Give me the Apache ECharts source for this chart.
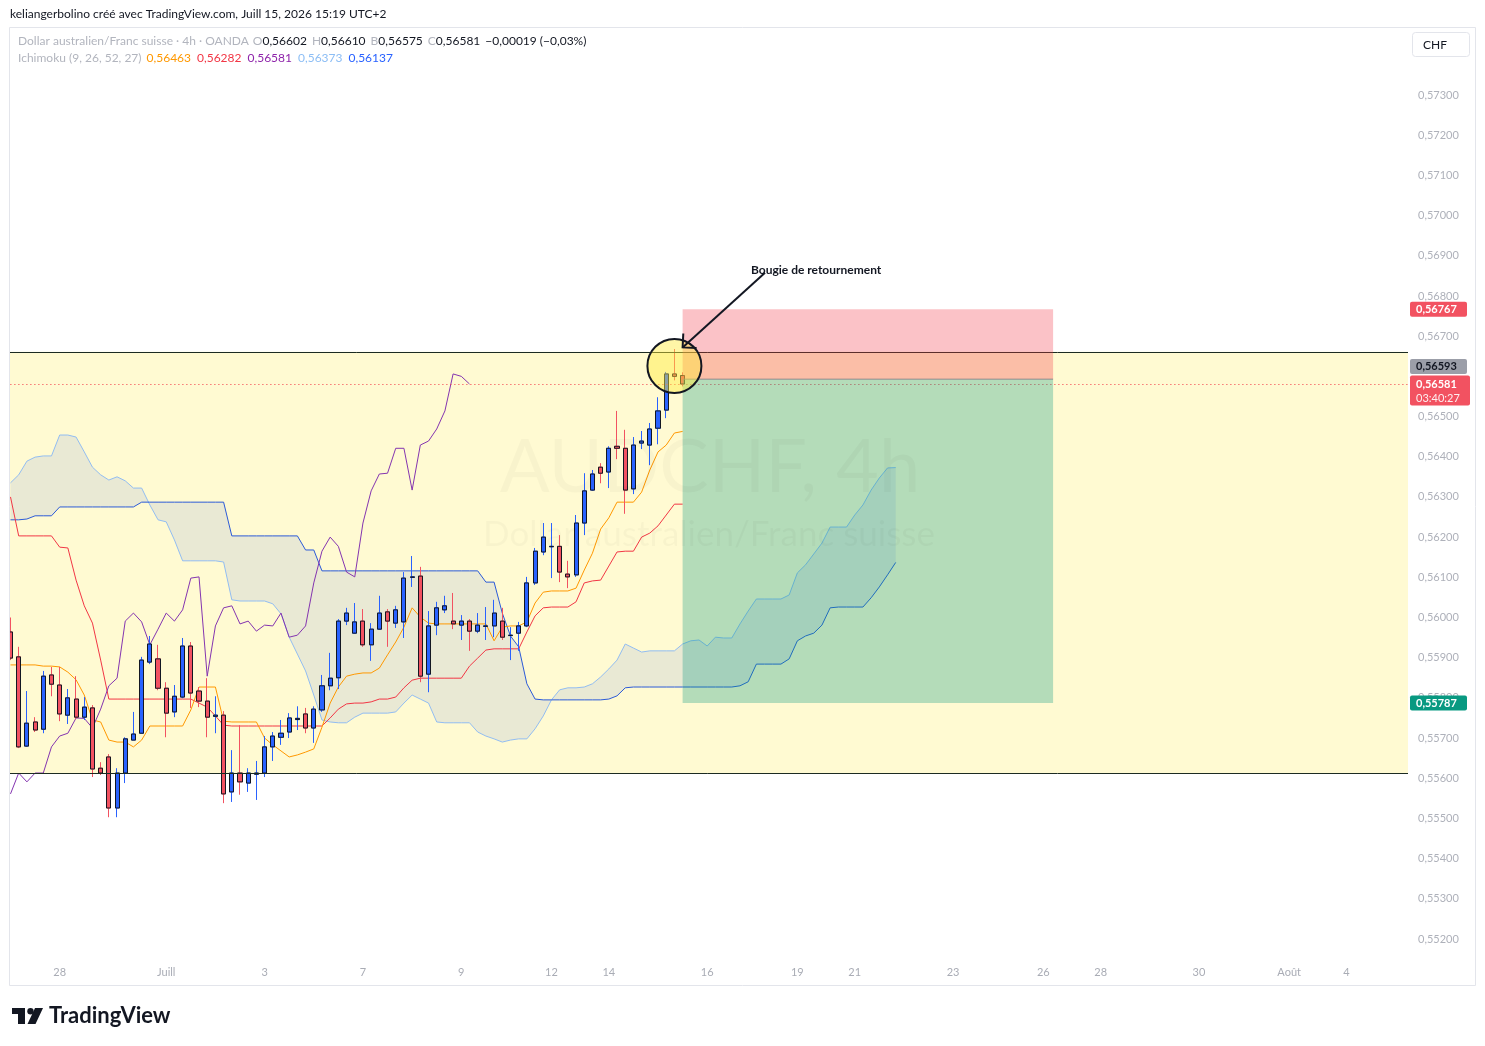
<!DOCTYPE html>
<html lang="fr">
<head>
<meta charset="utf-8">
<title>AUDCHF 4h – Ichimoku</title>
<script src="https://cdn.jsdelivr.net/npm/echarts@6.0.0/dist/echarts.min.js"></script>
<style>
html,body{margin:0;padding:0;background:#ffffff;}
#chart{width:1485px;height:1046px;}
</style>
</head>
<body>
<div id="chart"></div>
<script>
// ---------------- DATA ----------------
const opens = [0.55964,0.55902,0.55680,0.55740,0.55722,0.55857,0.55832,0.55757,0.55797,0.55752,
0.55775,0.55625,0.55653,0.55526,0.55613,0.55695,0.55712,0.55889,0.55897,0.55824,
0.55765,0.55802,0.55929,0.55817,0.55792,0.55754,0.55757,0.55566,0.55613,0.55588,
0.55610,0.55613,0.55678,0.55702,0.55715,0.55746,0.55760,0.55725,0.55770,0.55830,
0.55850,0.55991,0.55961,0.55991,0.55932,0.55971,0.56014,0.55986,0.55989,0.56100,
0.56103,0.55859,0.55981,0.56019,0.55991,0.55981,0.55991,0.55966,0.55978,0.55979,
0.55991,0.55955,0.55961,0.55979,0.56086,0.56163,0.56176,0.56177,0.56108,0.56106,
0.56235,0.56317,0.56374,0.56362,0.56426,0.56421,0.56320,0.56434,0.56429,0.56471,
0.56516,0.56606,0.56602];
const closes = [0.55899,0.55678,0.55737,0.55720,0.55854,0.55834,0.55760,0.55800,0.55752,0.55777,
0.55623,0.55613,0.55526,0.55613,0.55698,0.55710,0.55894,0.55934,0.55824,0.55762,
0.55804,0.55929,0.55812,0.55792,0.55752,0.55757,0.55561,0.55613,0.55591,0.55613,
0.55613,0.55678,0.55705,0.55712,0.55750,0.55749,0.55725,0.55772,0.55830,0.55849,
0.55991,0.56011,0.55989,0.55932,0.55971,0.56011,0.55991,0.56019,0.56098,0.56101,
0.55854,0.55979,0.56024,0.56029,0.55984,0.55991,0.55966,0.55981,0.55979,0.56011,
0.55951,0.55956,0.55979,0.56086,0.56165,0.56200,0.56177,0.56113,0.56101,0.56235,
0.56315,0.56357,0.56359,0.56421,0.56421,0.56317,0.56429,0.56439,0.56469,0.56514,
0.56606,0.56600,0.56581];
const lows = [0.55894,0.55675,0.55678,0.55715,0.55712,0.55804,0.55742,0.55735,0.55747,0.55745,
0.55603,0.55608,0.55503,0.55503,0.55588,0.55695,0.55712,0.55884,0.55819,0.55702,
0.55752,0.55799,0.55775,0.55777,0.55702,0.55712,0.55538,0.55541,0.55559,0.55566,
0.55546,0.55603,0.55643,0.55683,0.55700,0.55720,0.55712,0.55688,0.55765,0.55819,
0.55822,0.55981,0.55959,0.55927,0.55892,0.55969,0.55927,0.55974,0.55949,0.56076,
0.55839,0.55814,0.55956,0.56011,0.55971,0.55944,0.55917,0.55961,0.55944,0.55951,
0.55944,0.55894,0.55917,0.55976,0.56081,0.56155,0.56098,0.56088,0.56073,0.56101,
0.56205,0.56315,0.56334,0.56322,0.56394,0.56258,0.56307,0.56419,0.56379,0.56431,
0.56496,0.56590,0.56575];
const highs = [0.56000,0.55927,0.55817,0.55752,0.55867,0.55877,0.55877,0.55822,0.55854,0.55802,
0.55782,0.55640,0.55660,0.55625,0.55702,0.55765,0.55902,0.55954,0.55932,0.55839,
0.55832,0.55949,0.55939,0.55827,0.55849,0.55804,0.55767,0.55670,0.55732,0.55625,
0.55643,0.55705,0.55715,0.55745,0.55762,0.55779,0.55775,0.55779,0.55857,0.55912,
0.55996,0.56024,0.56036,0.56021,0.55986,0.56054,0.56021,0.56029,0.56113,0.56153,
0.56126,0.56016,0.56039,0.56054,0.56061,0.56006,0.55996,0.56011,0.56026,0.56044,
0.56024,0.55976,0.55989,0.56101,0.56173,0.56235,0.56235,0.56205,0.56141,0.56255,
0.56359,0.56367,0.56384,0.56426,0.56514,0.56467,0.56449,0.56464,0.56484,0.56548,
0.56611,0.56668,0.56610];

// Ichimoku (9, 26, 52, 27)
const tenkan = [0.55882,0.55882,0.55882,0.55882,0.55879,0.55879,0.55877,0.55864,0.55845,0.55807,
0.55745,0.55740,0.55695,0.55690,0.55690,0.55678,0.55695,0.55730,0.55730,0.55730,
0.55730,0.55730,0.55770,0.55827,0.55827,0.55827,0.55742,0.55740,0.55740,0.55740,
0.55740,0.55700,0.55683,0.55668,0.55653,0.55658,0.55665,0.55673,0.55727,0.55787,
0.55827,0.55854,0.55859,0.55862,0.55862,0.55874,0.55907,0.55939,0.55976,0.56024,
0.56001,0.55986,0.55984,0.55984,0.55984,0.55984,0.55984,0.55984,0.55984,0.55942,
0.55976,0.55979,0.55979,0.55989,0.56036,0.56063,0.56066,0.56066,0.56066,0.56073,
0.56118,0.56160,0.56220,0.56248,0.56287,0.56287,0.56287,0.56312,0.56367,0.56412,
0.56429,0.56459,0.56463];
const kijun = [0.56300,0.56203,0.56203,0.56203,0.56203,0.56203,0.56175,0.56173,0.56093,0.56029,
0.55986,0.55894,0.55797,0.55797,0.55797,0.55797,0.55797,0.55797,0.55797,0.55797,
0.55797,0.55797,0.55797,0.55787,0.55777,0.55755,0.55732,0.55730,0.55730,0.55730,
0.55730,0.55730,0.55730,0.55730,0.55730,0.55730,0.55730,0.55730,0.55730,0.55750,
0.55772,0.55785,0.55787,0.55787,0.55790,0.55797,0.55797,0.55802,0.55825,0.55844,
0.55849,0.55849,0.55849,0.55849,0.55849,0.55849,0.55879,0.55899,0.55919,0.55922,
0.55922,0.55922,0.55922,0.55964,0.56004,0.56024,0.56026,0.56026,0.56026,0.56039,
0.56086,0.56091,0.56093,0.56128,0.56163,0.56165,0.56165,0.56200,0.56210,0.56228,
0.56255,0.56282,0.56282];
const chikou = [0.55561,0.55613,0.55591,0.55613,0.55613,0.55678,0.55705,0.55712,0.55750,0.55749,
0.55725,0.55772,0.55830,0.55849,0.55991,0.56011,0.55989,0.55932,0.55971,0.56011,
0.55991,0.56019,0.56098,0.56101,0.55854,0.55979,0.56024,0.56029,0.55984,0.55991,
0.55966,0.55981,0.55979,0.56011,0.55951,0.55956,0.55979,0.56086,0.56165,0.56200,
0.56177,0.56113,0.56101,0.56235,0.56315,0.56357,0.56359,0.56421,0.56421,0.56317,
0.56429,0.56439,0.56469,0.56514,0.56606,0.56600,0.56581];
const spanA = [0.56335,0.56355,0.56389,0.56399,0.56402,0.56402,0.56454,0.56454,0.56449,0.56412,
0.56374,0.56355,0.56342,0.56350,0.56340,0.56322,0.56322,0.56280,0.56243,0.56238,
0.56193,0.56141,0.56141,0.56141,0.56141,0.56141,0.56138,0.56044,0.56041,0.56041,
0.56041,0.56041,0.56034,0.56009,0.55951,0.55909,0.55867,0.55807,0.55745,0.55740,
0.55738,0.55738,0.55752,0.55762,0.55762,0.55762,0.55762,0.55765,0.55787,0.55807,
0.55797,0.55787,0.55740,0.55738,0.55738,0.55738,0.55738,0.55715,0.55705,0.55698,
0.55690,0.55695,0.55698,0.55698,0.55723,0.55755,0.55795,0.55820,0.55825,0.55825,
0.55827,0.55835,0.55852,0.55872,0.55894,0.55934,0.55924,0.55914,0.55917,0.55917,
0.55917,0.55917,0.55934,0.55942,0.55944,0.55929,0.55951,0.55949,0.55949,0.55984,
0.56016,0.56046,0.56046,0.56046,0.56046,0.56056,0.56111,0.56131,0.56158,0.56185,
0.56225,0.56225,0.56225,0.56255,0.56280,0.56317,0.56347,0.56372,0.56373];
const spanB = [0.56243,0.56243,0.56245,0.56253,0.56253,0.56253,0.56275,0.56275,0.56275,0.56275,
0.56275,0.56275,0.56275,0.56275,0.56275,0.56275,0.56287,0.56287,0.56287,0.56287,
0.56287,0.56287,0.56287,0.56287,0.56287,0.56287,0.56287,0.56203,0.56203,0.56203,
0.56203,0.56203,0.56203,0.56203,0.56203,0.56203,0.56168,0.56168,0.56116,0.56116,
0.56116,0.56116,0.56116,0.56116,0.56116,0.56116,0.56116,0.56116,0.56116,0.56116,
0.56116,0.56116,0.56116,0.56116,0.56116,0.56116,0.56116,0.56116,0.56088,0.56088,
0.56011,0.55954,0.55927,0.55835,0.55797,0.55795,0.55795,0.55795,0.55795,0.55795,
0.55795,0.55795,0.55795,0.55797,0.55805,0.55825,0.55827,0.55827,0.55827,0.55827,
0.55827,0.55827,0.55827,0.55827,0.55827,0.55827,0.55827,0.55827,0.55827,0.55830,
0.55840,0.55884,0.55884,0.55884,0.55884,0.55897,0.55942,0.55954,0.55961,0.55981,
0.56024,0.56026,0.56026,0.56026,0.56026,0.56049,0.56076,0.56106,0.56137];

// time axis (one slot per 4h bar, incl. future slots)
const barSlots = 171;
const tickIndex = [6,19,31,43,55,66,73,85,96,103,115,126,133,145,156,163];
const tickLabels = ['28','Juill','3','7','9','12','14','16','19','21','23','26','28','30','Août','4'];
// price axis labels
const priceTicks = [0.552,0.553,0.554,0.555,0.556,0.557,0.558,0.559,0.560,0.561,0.562,0.563,0.564,0.565,0.567,0.568,0.569,0.570,0.571,0.572,0.573];

// drawings (price levels & anchors)
const zoneTop = 0.56661, zoneBottom = 0.55613;
const stopPrice = 0.56767, entryPrice = 0.56593, targetPrice = 0.55787;
const positionStart = 82, positionEnd = 127.2;
const circleAnchor = [81, 0.56626];
const arrowFrom = [92.05, 0.56858], arrowTo = [82, 0.56672];
const countdown = '03:40:27';

// ---------------- CHART ----------------
const FONT = "Lato, 'Liberation Sans', Arial, sans-serif";
const UP = '#2962ff', DOWN = '#f25261', INK = '#131722', AXIS_TXT = '#a9acb5';
const fmt = v => v.toFixed(5).replace('.', ',');

const cats = Array.from({length: barSlots}, () => '');
tickIndex.forEach((ix, k) => { cats[ix] = tickLabels[k]; });

const wickData = opens.map((o, i) => [o, closes[i], lows[i], highs[i]]);
const bodyData = opens.map((o, i) => [o, closes[i], Math.min(o, closes[i]), Math.max(o, closes[i])]);

const mkLine = (name, data, color, z) => ({
  name, type: 'line', data, showSymbol: false, symbol: 'none', silent: true, clip: true,
  lineStyle: {color, width: 1}, z: z || 2, emphasis: {disabled: true}
});

const chart = echarts.init(document.getElementById('chart'), null, {renderer: 'canvas', width: 1485, height: 1046});

chart.setOption({
  animation: false,
  backgroundColor: '#ffffff',
  grid: {left: 6.4, right: 77, top: 26.7, bottom: 86.9, containLabel: false, outerBoundsMode: 'none'},
  xAxis: {
    type: 'category', data: cats, boundaryGap: true,
    axisLine: {show: false}, axisTick: {show: false}, splitLine: {show: false},
    axisLabel: {interval: 0, hideOverlap: false, color: AXIS_TXT, fontSize: 11, fontFamily: FONT, margin: 8}
  },
  yAxis: {
    type: 'value', position: 'right', min: 0.5515, max: 0.5747, scale: true,
    axisLine: {show: false}, axisTick: {show: false}, splitLine: {show: false},
    axisLabel: {customValues: priceTicks, formatter: v => fmt(v), color: '#aeb1ba', fontSize: 11, fontFamily: FONT, margin: 10, hideOverlap: false}
  },
  series: [
    {
      name: 'Nuage', type: 'custom', z: 1, silent: true, clip: true,
      data: [[0, spanA[0]]],
      renderItem: (params, api) => {
        const pts = [];
        for (let i = 0; i < spanA.length; i++) pts.push(api.coord([i, spanA[i]]));
        for (let i = spanB.length - 1; i >= 0; i--) pts.push(api.coord([i, spanB[i]]));
        return {type: 'polygon', shape: {points: pts}, style: {fill: 'rgba(144,167,220,0.2)'}};
      }
    },
    mkLine('Span A', spanA, '#92bdf2', 2),
    mkLine('Span B', spanB, '#2b5ad8', 2),
    mkLine('Kijun', kijun, '#f23645', 2),
    mkLine('Tenkan', tenkan, '#ff9800', 2),
    mkLine('Chikou', chikou, '#8434b0', 2),
    {
      name: 'AUDCHF wicks', type: 'candlestick', data: wickData, z: 3, barWidth: 4.6, silent: true,
      itemStyle: {color: UP, color0: DOWN, borderColor: UP, borderColor0: DOWN, borderWidth: 1}
    },
    {
      name: 'AUDCHF', type: 'candlestick', data: bodyData, z: 4, barWidth: 4.6, silent: true,
      itemStyle: {color: UP, color0: DOWN, borderColor: INK, borderColor0: INK, borderWidth: 1}
    }
  ]
});

// ---------------- DRAWINGS / OVERLAYS ----------------
const P = (i, v) => chart.convertToPixel({xAxisIndex: 0, yAxisIndex: 0}, [i, v]);
const xc0 = P(0, zoneTop)[0];
const bw = P(1, zoneTop)[0] - xc0;
const xf = f => xc0 + f * bw;
const yv = v => P(0, v)[1];
const L = xf(-0.5), R = xf(barSlots - 0.5);
const crisp = y => Math.round(y) + 0.5;

const mctx = document.createElement('canvas').getContext('2d');
const tw = (s, font) => { mctx.font = font; return mctx.measureText(s).width; };
const txt = (x, y, text, fill, font, z, align) => ({
  type: 'text', x, y, z: z || 40, silent: true,
  style: {text, fill, font, align: align || 'left', verticalAlign: 'middle', textAlign: align || 'left', textVerticalAlign: 'middle'}
});
function segments(x, y, parts, z) {
  const out = []; let cx = x;
  parts.forEach(p => {
    if (p.gap) { cx += p.gap; return; }
    out.push(txt(cx, y, p.t, p.c, p.f, z));
    cx += tw(p.t, p.f);
  });
  return out;
}

const E = [];
// yellow zone
E.push({type: 'rect', z: 0, silent: true,
  shape: {x: L, y: yv(zoneTop), width: R - L, height: yv(zoneBottom) - yv(zoneTop)},
  style: {fill: 'rgba(255,235,59,0.23)'}});
// watermark
E.push(txt(710, 468, 'AUDCHF, 4h', 'rgba(0,0,0,0.028)', '74px ' + FONT, 0, 'center'));
E.push(txt(709, 535, 'Dollar australien/Franc suisse', 'rgba(0,0,0,0.028)', '35px ' + FONT, 0, 'center'));
// zone borders
[zoneTop, zoneBottom].forEach(v => E.push({type: 'line', z: 5, silent: true,
  shape: {x1: L, y1: crisp(yv(v)), x2: R, y2: crisp(yv(v))}, style: {stroke: '#1c2b22', lineWidth: 1}}));
// last price dotted line
const yLast = yv(closes[closes.length - 1]);
E.push({type: 'line', z: 5, silent: true, shape: {x1: L, y1: crisp(yLast), x2: R, y2: crisp(yLast)},
  style: {stroke: '#f23645', lineWidth: 1, lineDash: [1, 3]}});
// short position tool
const p1 = xf(positionStart), p2 = xf(positionEnd);
const yS = yv(stopPrice), yE = yv(entryPrice), yT = yv(targetPrice);
E.push({type: 'rect', z: 6, silent: true, shape: {x: p1, y: yS, width: p2 - p1, height: yE - yS}, style: {fill: 'rgba(242,54,69,0.3)'}});
E.push({type: 'rect', z: 6, silent: true, shape: {x: p1, y: yE, width: p2 - p1, height: yT - yE}, style: {fill: 'rgba(8,153,129,0.3)'}});
E.push({type: 'line', z: 6, silent: true, shape: {x1: p1, y1: yE, x2: p2, y2: yE}, style: {stroke: 'rgba(120,123,134,0.8)', lineWidth: 1}});
// circle
E.push({type: 'circle', z: 7, silent: true, shape: {cx: xf(circleAnchor[0]), cy: yv(circleAnchor[1]), r: 27},
  style: {fill: 'rgba(255,235,59,0.45)', stroke: INK, lineWidth: 2}});
// arrow
const sx = xf(arrowFrom[0]), sy = yv(arrowFrom[1]), ex = xf(arrowTo[0]), ey = yv(arrowTo[1]);
const dx = sx - ex, dy = sy - ey, dl = Math.hypot(dx, dy), ux = dx / dl, uy = dy / dl;
const rot = (a) => [ex + 14 * (ux * Math.cos(a) - uy * Math.sin(a)), ey + 14 * (ux * Math.sin(a) + uy * Math.cos(a))];
E.push({type: 'line', z: 8, silent: true, shape: {x1: sx, y1: sy, x2: ex, y2: ey}, style: {stroke: INK, lineWidth: 2}});
E.push({type: 'polyline', z: 8, silent: true, shape: {points: [rot(Math.PI / 4), [ex, ey], rot(-Math.PI / 4)]},
  style: {stroke: INK, lineWidth: 2, fill: null}});
E.push(txt(sx - 14, sy - 3, 'Bougie de retournement', INK, 'bold 12px ' + FONT, 9));

// left mask + panel frame
E.push({type: 'rect', z: 30, silent: true, shape: {x: 0, y: 20, width: 9.5, height: 980}, style: {fill: '#ffffff'}});
E.push({type: 'rect', z: 31, silent: true, shape: {x: 9.5, y: 27.5, width: 1466, height: 958}, style: {fill: null, stroke: '#e3e5eb', lineWidth: 1}});

// price tags
const TX = R + 8;
const tagFont = 'bold 11px ' + FONT;
E.push({type: 'rect', z: 35, silent: true, shape: {x: R + 2, y: yS - 7.5, width: 57, height: 15, r: 2}, style: {fill: DOWN}});
E.push(txt(TX, yS, fmt(stopPrice), '#ffffff', tagFont, 36));
const curTop = yLast - 8.5;
E.push({type: 'rect', z: 35, silent: true, shape: {x: R + 2, y: curTop, width: 60, height: 30, r: 2}, style: {fill: DOWN}});
E.push(txt(TX, yLast, fmt(closes[closes.length - 1]), '#ffffff', tagFont, 36));
E.push(txt(TX, yLast + 14, countdown, 'rgba(255,255,255,0.9)', '11px ' + FONT, 36));
const entTop = curTop - 1.5 - 15;
E.push({type: 'rect', z: 35, silent: true, shape: {x: R + 2, y: entTop, width: 57, height: 15, r: 2}, style: {fill: '#9b9ea8'}});
E.push(txt(TX, entTop + 7.5, fmt(entryPrice), INK, tagFont, 36));
E.push({type: 'rect', z: 35, silent: true, shape: {x: R + 2, y: yT - 7.5, width: 57, height: 15, r: 2}, style: {fill: '#089981'}});
E.push(txt(TX, yT, fmt(targetPrice), '#ffffff', tagFont, 36));

// currency box
E.push({type: 'rect', z: 35, silent: true, shape: {x: 1412.5, y: 32.5, width: 57, height: 24, r: 3}, style: {fill: '#ffffff', stroke: '#e3e5eb', lineWidth: 1}});
E.push(txt(1423, 45, 'CHF', INK, '12px ' + FONT, 36));

// header
const HF = '12px ' + FONT, GRAY = '#b2b5be';
E.push(txt(10, 14, 'keliangerbolino créé avec TradingView.com, Juill 15, 2026 15:19 UTC+2', INK, HF, 40));
const last = closes.length - 1;
const chg = closes[last] - closes[last - 1];
const pct = chg / closes[last - 1] * 100;
const sgn = chg < 0 ? '−' : '+';
const chgTxt = sgn + fmt(Math.abs(chg)) + ' (' + sgn + Math.abs(pct).toFixed(2).replace('.', ',') + '%)';
segments(18, 41, [
  {t: 'Dollar australien/Franc suisse · 4h · OANDA', c: GRAY, f: HF}, {gap: 4},
  {t: 'O', c: GRAY, f: HF}, {t: fmt(opens[last]), c: INK, f: HF}, {gap: 5},
  {t: 'H', c: GRAY, f: HF}, {t: fmt(highs[last]), c: INK, f: HF}, {gap: 5},
  {t: 'B', c: GRAY, f: HF}, {t: fmt(lows[last]), c: INK, f: HF}, {gap: 5},
  {t: 'C', c: GRAY, f: HF}, {t: fmt(closes[last]), c: INK, f: HF}, {gap: 5},
  {t: chgTxt, c: INK, f: HF}
], 40).forEach(e => E.push(e));
segments(18, 58, [
  {t: 'Ichimoku (9, 26, 52, 27)', c: GRAY, f: HF}, {gap: 5},
  {t: fmt(tenkan[tenkan.length - 1]), c: '#ff9800', f: HF}, {gap: 6},
  {t: fmt(kijun[kijun.length - 1]), c: '#f23645', f: HF}, {gap: 6},
  {t: fmt(chikou[chikou.length - 1]), c: '#8e24aa', f: HF}, {gap: 6},
  {t: fmt(spanA[spanA.length - 1]), c: '#8dbef5', f: HF}, {gap: 6},
  {t: fmt(spanB[spanB.length - 1]), c: '#2962ff', f: HF}
], 40).forEach(e => E.push(e));

// TradingView logo
E.push({type: 'rect', z: 40, silent: true, shape: {x: 12, y: 1008, width: 13, height: 6}, style: {fill: INK}});
E.push({type: 'rect', z: 40, silent: true, shape: {x: 18, y: 1008, width: 7, height: 16}, style: {fill: INK}});
E.push({type: 'circle', z: 40, silent: true, shape: {cx: 30.5, cy: 1011.2, r: 3.2}, style: {fill: INK}});
E.push({type: 'polygon', z: 40, silent: true, shape: {points: [[35, 1008], [43, 1008], [35.5, 1024], [27.5, 1024]]}, style: {fill: INK}});
E.push(txt(49, 1016, 'TradingView', INK, 'bold 22px ' + FONT, 40));

chart.setOption({graphic: {elements: E}});
</script>
</body>
</html>
